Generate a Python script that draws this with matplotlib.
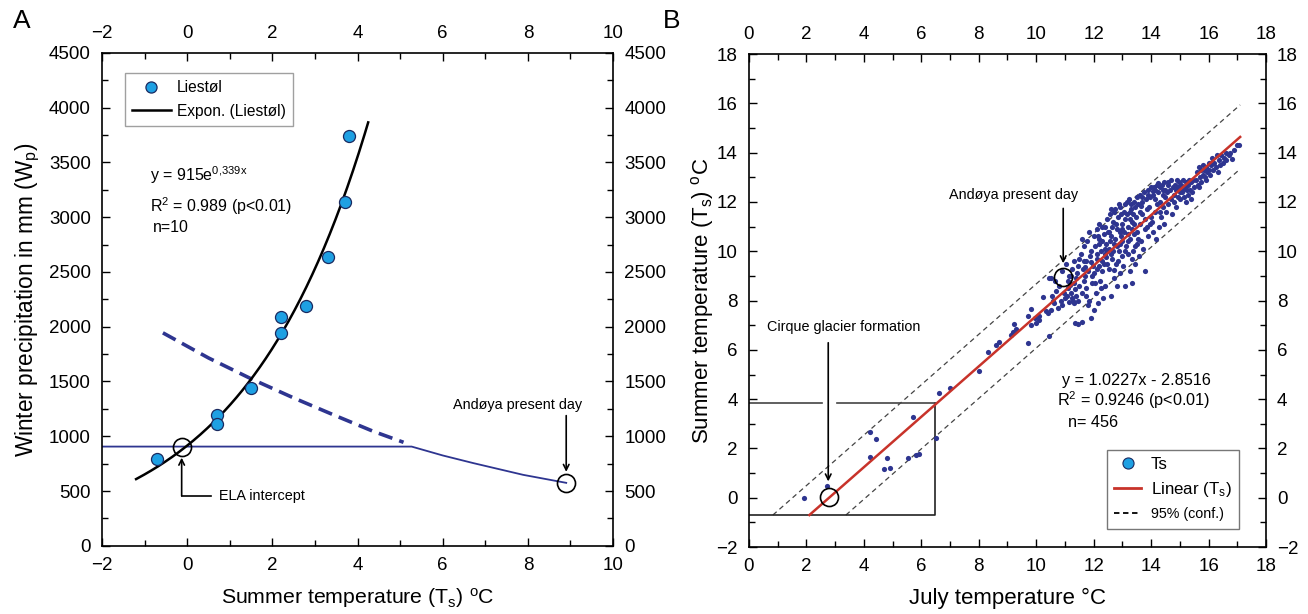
import numpy as np
import matplotlib
matplotlib.use("Agg")
import matplotlib.pyplot as plt
from matplotlib.lines import Line2D
from matplotlib.ticker import MultipleLocator

plt.rcParams['font.family'] = ['Liberation Sans', 'DejaVu Sans']
plt.rcParams['mathtext.fontset'] = 'custom'
plt.rcParams['mathtext.rm'] = 'Liberation Sans'
plt.rcParams['mathtext.default'] = 'regular'

# ---- panel A data ----
liestol_t = [-0.7, 0.7, 0.7, 1.5, 2.2, 2.2, 2.8, 3.3, 3.7, 3.8]
liestol_p = [790, 1190, 1110, 1440, 2090, 1940, 2190, 2640, 3140, 3740]
fit_a, fit_b = 915, 0.339
fit_range = (-1.2, 4.25)

ela_line_t = [-2, 5.27, 6.0, 6.72, 7.89, 8.9]
ela_line_p = [906, 906, 825, 755, 648, 575]
dash_t = [-0.57, 0.5, 1.5, 2.5, 3.5, 4.37, 5.08]
dash_p = [1944, 1715, 1525, 1350, 1185, 1045, 945]
ela_pt = (-0.13, 906)
andoya_a = (8.9, 575)

# ---- panel B data ----
sparse_x = [1.93, 2.73, 4.22, 4.42, 4.22, 4.80, 4.70, 4.92, 5.52, 5.80, 5.92, 5.71, 6.50,
            6.62, 7.01, 8.01, 8.31, 8.60, 8.71, 9.12, 9.22, 9.30, 9.20, 9.72, 9.72, 9.81,
            9.82, 9.95, 10.0, 10.1, 10.11, 10.23, 10.34, 10.4, 10.44]
sparse_y = [0.0, 0.47, 2.67, 2.39, 1.64, 1.61, 1.16, 1.22, 1.61, 1.73, 1.77, 3.29, 2.42,
            4.24, 4.44, 5.13, 5.90, 6.19, 6.30, 6.61, 7.03, 6.84, 6.71, 6.26, 7.38, 7.64,
            6.99, 7.29, 7.10, 7.37, 7.21, 8.15, 7.59, 7.48, 6.57]

cloud = [
    (10.45, 8.9), (10.5, 7.6), (10.55, 8.2), (10.6, 8.0), (10.62, 7.9), (10.7, 8.4), (10.75, 7.7),
    (10.8, 8.6), (10.85, 8.0), (10.9, 9.2), (10.95, 8.3), (10.52, 8.93), (10.65, 8.8), (10.9, 7.8),
    (11.0, 8.1),
    (11.05, 9.5), (11.1, 8.5), (11.12, 8.8), (11.15, 7.95), (11.2, 9.0), (11.22, 8.3), (11.25, 9.3),
    (11.28, 8.0), (11.3, 8.7), (11.32, 9.6), (11.35, 7.1), (11.38, 8.9), (11.4, 8.2), (11.42, 9.1),
    (11.45, 7.05), (11.47, 8.0), (11.5, 9.7), (11.5, 8.6), (11.15, 9.0), (11.3, 7.9), (11.25, 8.1),
    (11.45, 9.4), (11.08, 8.2), (11.35, 8.45), (11.18, 8.65),
    (11.55, 9.9), (11.58, 8.3), (11.6, 7.15), (11.62, 9.3), (11.65, 8.8), (11.68, 10.2), (11.7, 9.0),
    (11.72, 8.5), (11.75, 9.6), (11.78, 10.4), (11.8, 7.8), (11.82, 9.2), (11.85, 8.0), (11.88, 9.8),
    (11.9, 7.3), (11.92, 10.0), (11.95, 8.7), (11.97, 9.4), (12.0, 10.6), (12.0, 7.6), (11.65, 9.6),
    (11.75, 8.2), (11.85, 10.8), (11.6, 10.5), (11.95, 9.0), (11.7, 9.35), (11.9, 9.55),
    (12.02, 9.1), (12.05, 10.2), (12.08, 8.3), (12.1, 9.7), (12.12, 10.9), (12.15, 7.9), (12.18, 9.4),
    (12.2, 10.5), (12.22, 8.8), (12.25, 10.0), (12.28, 11.0), (12.3, 9.2), (12.32, 8.1), (12.35, 10.7),
    (12.38, 9.9), (12.4, 8.6), (12.42, 10.3), (12.45, 11.3), (12.48, 9.5), (12.5, 10.8), (12.05, 8.7),
    (12.15, 10.6), (12.25, 8.5), (12.35, 9.5), (12.45, 10.0), (12.2, 11.1), (12.4, 11.0), (12.1, 9.9),
    (12.3, 10.4), (12.18, 10.3), (12.38, 10.1), (12.28, 9.6), (12.12, 9.3), (12.42, 9.75),
    (12.52, 9.3), (12.55, 10.1), (12.58, 11.5), (12.6, 8.2), (12.62, 10.6), (12.65, 9.7), (12.68, 11.2),
    (12.7, 8.9), (12.72, 10.3), (12.75, 11.7), (12.78, 9.5), (12.8, 10.9), (12.82, 8.6), (12.85, 11.4),
    (12.88, 10.0), (12.9, 9.1), (12.92, 11.8), (12.95, 10.6), (12.98, 9.8), (13.0, 11.1), (12.55, 10.8),
    (12.65, 11.0), (12.75, 10.5), (12.85, 9.6), (12.95, 11.5), (12.6, 9.9), (12.7, 11.6), (12.8, 10.2),
    (12.9, 10.8), (13.0, 10.4), (12.62, 11.7), (12.88, 11.9), (12.58, 10.4), (12.78, 11.1), (12.98, 10.9),
    (12.68, 10.0), (12.92, 10.3), (12.72, 9.25),
    (13.02, 9.4), (13.05, 10.8), (13.08, 11.9), (13.1, 8.6), (13.12, 10.2), (13.15, 11.5), (13.18, 9.9),
    (13.2, 11.0), (13.22, 12.1), (13.25, 9.2), (13.28, 10.5), (13.3, 11.7), (13.32, 9.7), (13.35, 11.2),
    (13.38, 10.0), (13.4, 12.0), (13.42, 10.7), (13.45, 9.5), (13.48, 11.4), (13.5, 12.2), (13.1, 11.3),
    (13.2, 10.4), (13.3, 11.9), (13.4, 11.1), (13.5, 10.3), (13.15, 12.0), (13.25, 11.6), (13.35, 10.9),
    (13.45, 11.8), (13.05, 11.6), (13.32, 8.7), (13.18, 10.7), (13.38, 11.5), (13.08, 10.0),
    (13.28, 11.3), (13.45, 10.2),
    (13.52, 10.8), (13.55, 11.9), (13.58, 9.8), (13.6, 12.3), (13.62, 11.1), (13.65, 10.4), (13.68, 12.0),
    (13.7, 11.5), (13.72, 10.1), (13.75, 12.4), (13.78, 11.3), (13.8, 9.2), (13.82, 12.1), (13.85, 11.0),
    (13.88, 12.5), (13.9, 10.6), (13.92, 11.8), (13.95, 12.2), (13.98, 11.4), (14.0, 12.6), (13.6, 11.6),
    (13.7, 12.2), (13.8, 10.9), (13.9, 12.3), (13.55, 10.5), (13.85, 11.7), (13.65, 11.85), (13.95, 11.1),
    (14.02, 11.2), (14.05, 12.3), (14.08, 10.8), (14.1, 12.6), (14.12, 11.6), (14.15, 12.1), (14.18, 10.5),
    (14.2, 12.7), (14.22, 11.9), (14.25, 12.4), (14.28, 11.0), (14.3, 12.6), (14.32, 12.0), (14.35, 11.4),
    (14.38, 12.7), (14.4, 11.8), (14.42, 12.3), (14.45, 11.1), (14.48, 12.5), (14.5, 12.2), (14.15, 12.5),
    (14.3, 11.6), (14.45, 12.8), (14.08, 12.45), (14.25, 12.75), (14.4, 12.5),
    (14.52, 11.6), (14.55, 12.4), (14.58, 12.8), (14.6, 11.9), (14.65, 12.5), (14.68, 12.1), (14.7, 12.9),
    (14.72, 11.5), (14.75, 12.6), (14.8, 12.3), (14.82, 12.7), (14.85, 11.8), (14.88, 12.5), (14.9, 12.9),
    (14.92, 12.2), (14.95, 12.6), (15.0, 12.4), (14.6, 12.7), (14.78, 12.0), (14.98, 12.8),
    (15.02, 12.1), (15.05, 12.7), (15.08, 12.4), (15.1, 12.9), (15.15, 12.2), (15.18, 12.6), (15.2, 12.0),
    (15.22, 12.8), (15.25, 12.5), (15.28, 12.3), (15.3, 12.7), (15.35, 12.5), (15.38, 12.1), (15.4, 12.8),
    (15.42, 12.4), (15.45, 12.9), (15.5, 12.6), (15.12, 12.5), (15.32, 12.9),
    (15.55, 12.9), (15.6, 13.2), (15.62, 12.7), (15.65, 13.4), (15.7, 13.0), (15.72, 13.3), (15.75, 12.8),
    (15.8, 13.5), (15.82, 13.1), (15.85, 13.3), (15.9, 12.9), (15.92, 13.4), (15.95, 13.2), (16.0, 13.6),
    (15.68, 12.6), (15.88, 13.0),
    (16.02, 13.3), (16.05, 13.1), (16.1, 13.5), (16.12, 13.8), (16.15, 13.3), (16.2, 13.6), (16.25, 13.4),
    (16.3, 13.9), (16.32, 13.2), (16.35, 13.7), (16.4, 13.5), (16.45, 13.9), (16.5, 13.6),
    (16.55, 13.8), (16.6, 14.0), (16.62, 13.7), (16.7, 13.9), (16.75, 14.0), (16.8, 13.75), (16.9, 14.1),
    (17.0, 14.3), (17.07, 14.3),
]
july_t = np.array(sparse_x + [p[0] for p in cloud])
summer_t = np.array(sparse_y + [p[1] for p in cloud])

lin_a, lin_b = 1.0227, -2.8516
conf_off = 1.3
box_bottom, box_top, box_right = -0.7, 3.84, 6.48
cirque_pt = (2.79, 0.05)
andoya_b = (10.94, 8.97)

navy = '#2e3590'
light_blue = '#1ea0e3'
red = '#c8332a'

fig = plt.figure(figsize=(13.08, 6.14), dpi=100)
axA = fig.add_axes([0.078, 0.111, 0.3907, 0.803])
axB = fig.add_axes([0.5726, 0.109, 0.3953, 0.803])


def style_axes(ax):
    ax.tick_params(which='both', direction='in', top=True, right=True,
                   labeltop=True, labelright=True, labelsize=13.5, width=1.0, pad=8)
    ax.tick_params(which='major', length=6)
    ax.tick_params(which='minor', length=4)
    for s in ax.spines.values():
        s.set_linewidth(1.2)


# ---------------- Panel A ----------------
ax = axA
tt = np.linspace(fit_range[0], fit_range[1], 200)
ax.plot(tt, fit_a * np.exp(fit_b * tt), color='black', lw=1.8, zorder=3)
ax.plot(ela_line_t, ela_line_p, color=navy, lw=1.3, zorder=2)
ax.plot(dash_t, dash_p, color=navy, lw=2.6, linestyle=(0, (4, 2)), zorder=2)
ax.scatter(liestol_t, liestol_p, s=75, color=light_blue, edgecolor='#1a2a60', lw=0.9, zorder=4)
ax.plot(*ela_pt, marker='o', ms=13, mfc='none', mec='black', mew=1.2, zorder=5)
ax.plot(*andoya_a, marker='o', ms=13, mfc='none', mec='black', mew=1.2, zorder=5)

# ELA intercept callout
ax.plot([ela_pt[0], 0.55], [456, 456], color='black', lw=1.2)
ax.annotate('', xy=(ela_pt[0], 830), xytext=(ela_pt[0], 456),
            arrowprops=dict(arrowstyle='->', lw=1.2, color='black', shrinkA=0))
ax.text(0.75, 456, 'ELA intercept', fontsize=10.4, va='center', ha='left')

# Andøya callout
ax.annotate('', xy=(andoya_a[0], 650), xytext=(andoya_a[0], 1214),
            arrowprops=dict(arrowstyle='->', lw=1.2, color='black'))
ax.text(7.75, 1287, 'Andøya present day', fontsize=10.4, va='center', ha='center')

ax.text(-0.87, 3380, 'y = 915e$^{0{,}339x}$', fontsize=11.5, va='center')
ax.text(-0.87, 3100, 'R$^2$ = 0.989 (p<0.01)', fontsize=11.5, va='center')
ax.text(-0.80, 2910, 'n=10', fontsize=11.5, va='center')

ax.set_xlim(-2, 10)
ax.set_ylim(0, 4500)
ax.set_xticks(np.arange(-2, 11, 2))
ax.set_yticks(np.arange(0, 4501, 500))
ax.xaxis.set_minor_locator(MultipleLocator(1))
ax.yaxis.set_minor_locator(MultipleLocator(250))
style_axes(ax)
ax.set_xlabel('Summer temperature (T$_s$) $^o$C', fontsize=15.3, labelpad=9)
ax.set_ylabel('Winter precipitation in mm (W$_p$)', fontsize=16.3, labelpad=5)

hA = [Line2D([], [], marker='o', ls='none', ms=8, mfc=light_blue, mec='#1a2a60', mew=0.9),
      Line2D([], [], color='black', lw=1.8)]
legA = ax.legend(hA, ['Liestøl', 'Expon. (Liestøl)'], loc='upper left',
                 bbox_to_anchor=(0.045, 0.959), borderaxespad=0, fontsize=11.2, frameon=True,
                 fancybox=False, edgecolor='#888888', handlelength=2.5, handletextpad=0.4,
                 borderpad=0.45, labelspacing=0.55)
legA.get_frame().set_linewidth(1.0)

# ---------------- Panel B ----------------
ax = axB
ax.scatter(july_t, summer_t, s=14, color=navy, lw=0, zorder=3)

x0 = (box_bottom - lin_b) / lin_a
xr = np.array([x0, 17.1])
ax.plot(xr, lin_a * xr + lin_b, color=red, lw=1.8, zorder=4)
xu = np.array([(box_bottom - lin_b - conf_off) / lin_a, 17.1])
ax.plot(xu, lin_a * xu + lin_b + conf_off, color='#444444', lw=0.9, ls=(0, (4, 3)), zorder=2)
xl = np.array([(box_bottom - lin_b + conf_off) / lin_a, 17.1])
ax.plot(xl, lin_a * xl + lin_b - conf_off, color='#444444', lw=0.9, ls=(0, (4, 3)), zorder=2)

ax.plot([0, box_right, box_right], [box_bottom, box_bottom, box_top], color='#222222', lw=1.2)
ax.plot([0, 2.55], [box_top, box_top], color='#444444', lw=1.2)
ax.plot([3.05, box_right], [box_top, box_top], color='#444444', lw=1.2)

ax.plot(*cirque_pt, marker='o', ms=13, mfc='none', mec='black', mew=1.2, zorder=5)
ax.plot(*andoya_b, marker='o', ms=13, mfc='none', mec='black', mew=1.2, zorder=5)

ax.annotate('', xy=(2.76, 0.55), xytext=(2.76, 6.4),
            arrowprops=dict(arrowstyle='->', lw=1.2, color='black'))
ax.text(3.3, 6.93, 'Cirque glacier formation', fontsize=10.4, ha='center', va='center')
ax.annotate('', xy=(andoya_b[0], 9.4), xytext=(andoya_b[0], 11.85),
            arrowprops=dict(arrowstyle='->', lw=1.2, color='black'))
ax.text(9.21, 12.3, 'Andøya present day', fontsize=10.4, ha='center', va='center')

ax.text(10.9, 4.77, 'y = 1.0227x - 2.8516', fontsize=11.7, va='center')
ax.text(10.74, 3.94, 'R$^2$ = 0.9246 (p<0.01)', fontsize=11.7, va='center')
ax.text(11.11, 3.04, 'n= 456', fontsize=11.7, va='center')

ax.set_xlim(0, 18)
ax.set_ylim(-2, 18)
ax.set_xticks(np.arange(0, 19, 2))
ax.set_yticks(np.arange(-2, 19, 2))
ax.xaxis.set_minor_locator(MultipleLocator(1))
ax.yaxis.set_minor_locator(MultipleLocator(1))
style_axes(ax)
ax.set_xlabel('July temperature °C', fontsize=16, labelpad=9)
ax.set_ylabel('Summer temperature (T$_s$) $^o$C', fontsize=16, labelpad=0)

hB = [Line2D([], [], marker='o', ls='none', ms=8, mfc=light_blue, mec='#1a2a60', mew=0.8),
      Line2D([], [], color=red, lw=2.0),
      Line2D([], [], color='black', lw=1.3, ls=(0, (3, 2)))]
legB = ax.legend(hB, ['Ts', 'Linear (T$_s$)', '95% (conf.)'], loc='lower left',
                 bbox_to_anchor=(0.692, 0.0365), borderaxespad=0, fontsize=12.2, frameon=True,
                 fancybox=False, edgecolor='#555555', handlelength=1.6, handletextpad=0.55,
                 borderpad=0.45, labelspacing=0.45)
legB.get_frame().set_linewidth(1.0)
for t in legB.get_texts()[2:]:
    t.set_fontsize(10.3)

fig.text(0.010, 0.955, 'A', fontsize=19)
fig.text(0.507, 0.955, 'B', fontsize=19)

fig.savefig('out.png', dpi=100)
